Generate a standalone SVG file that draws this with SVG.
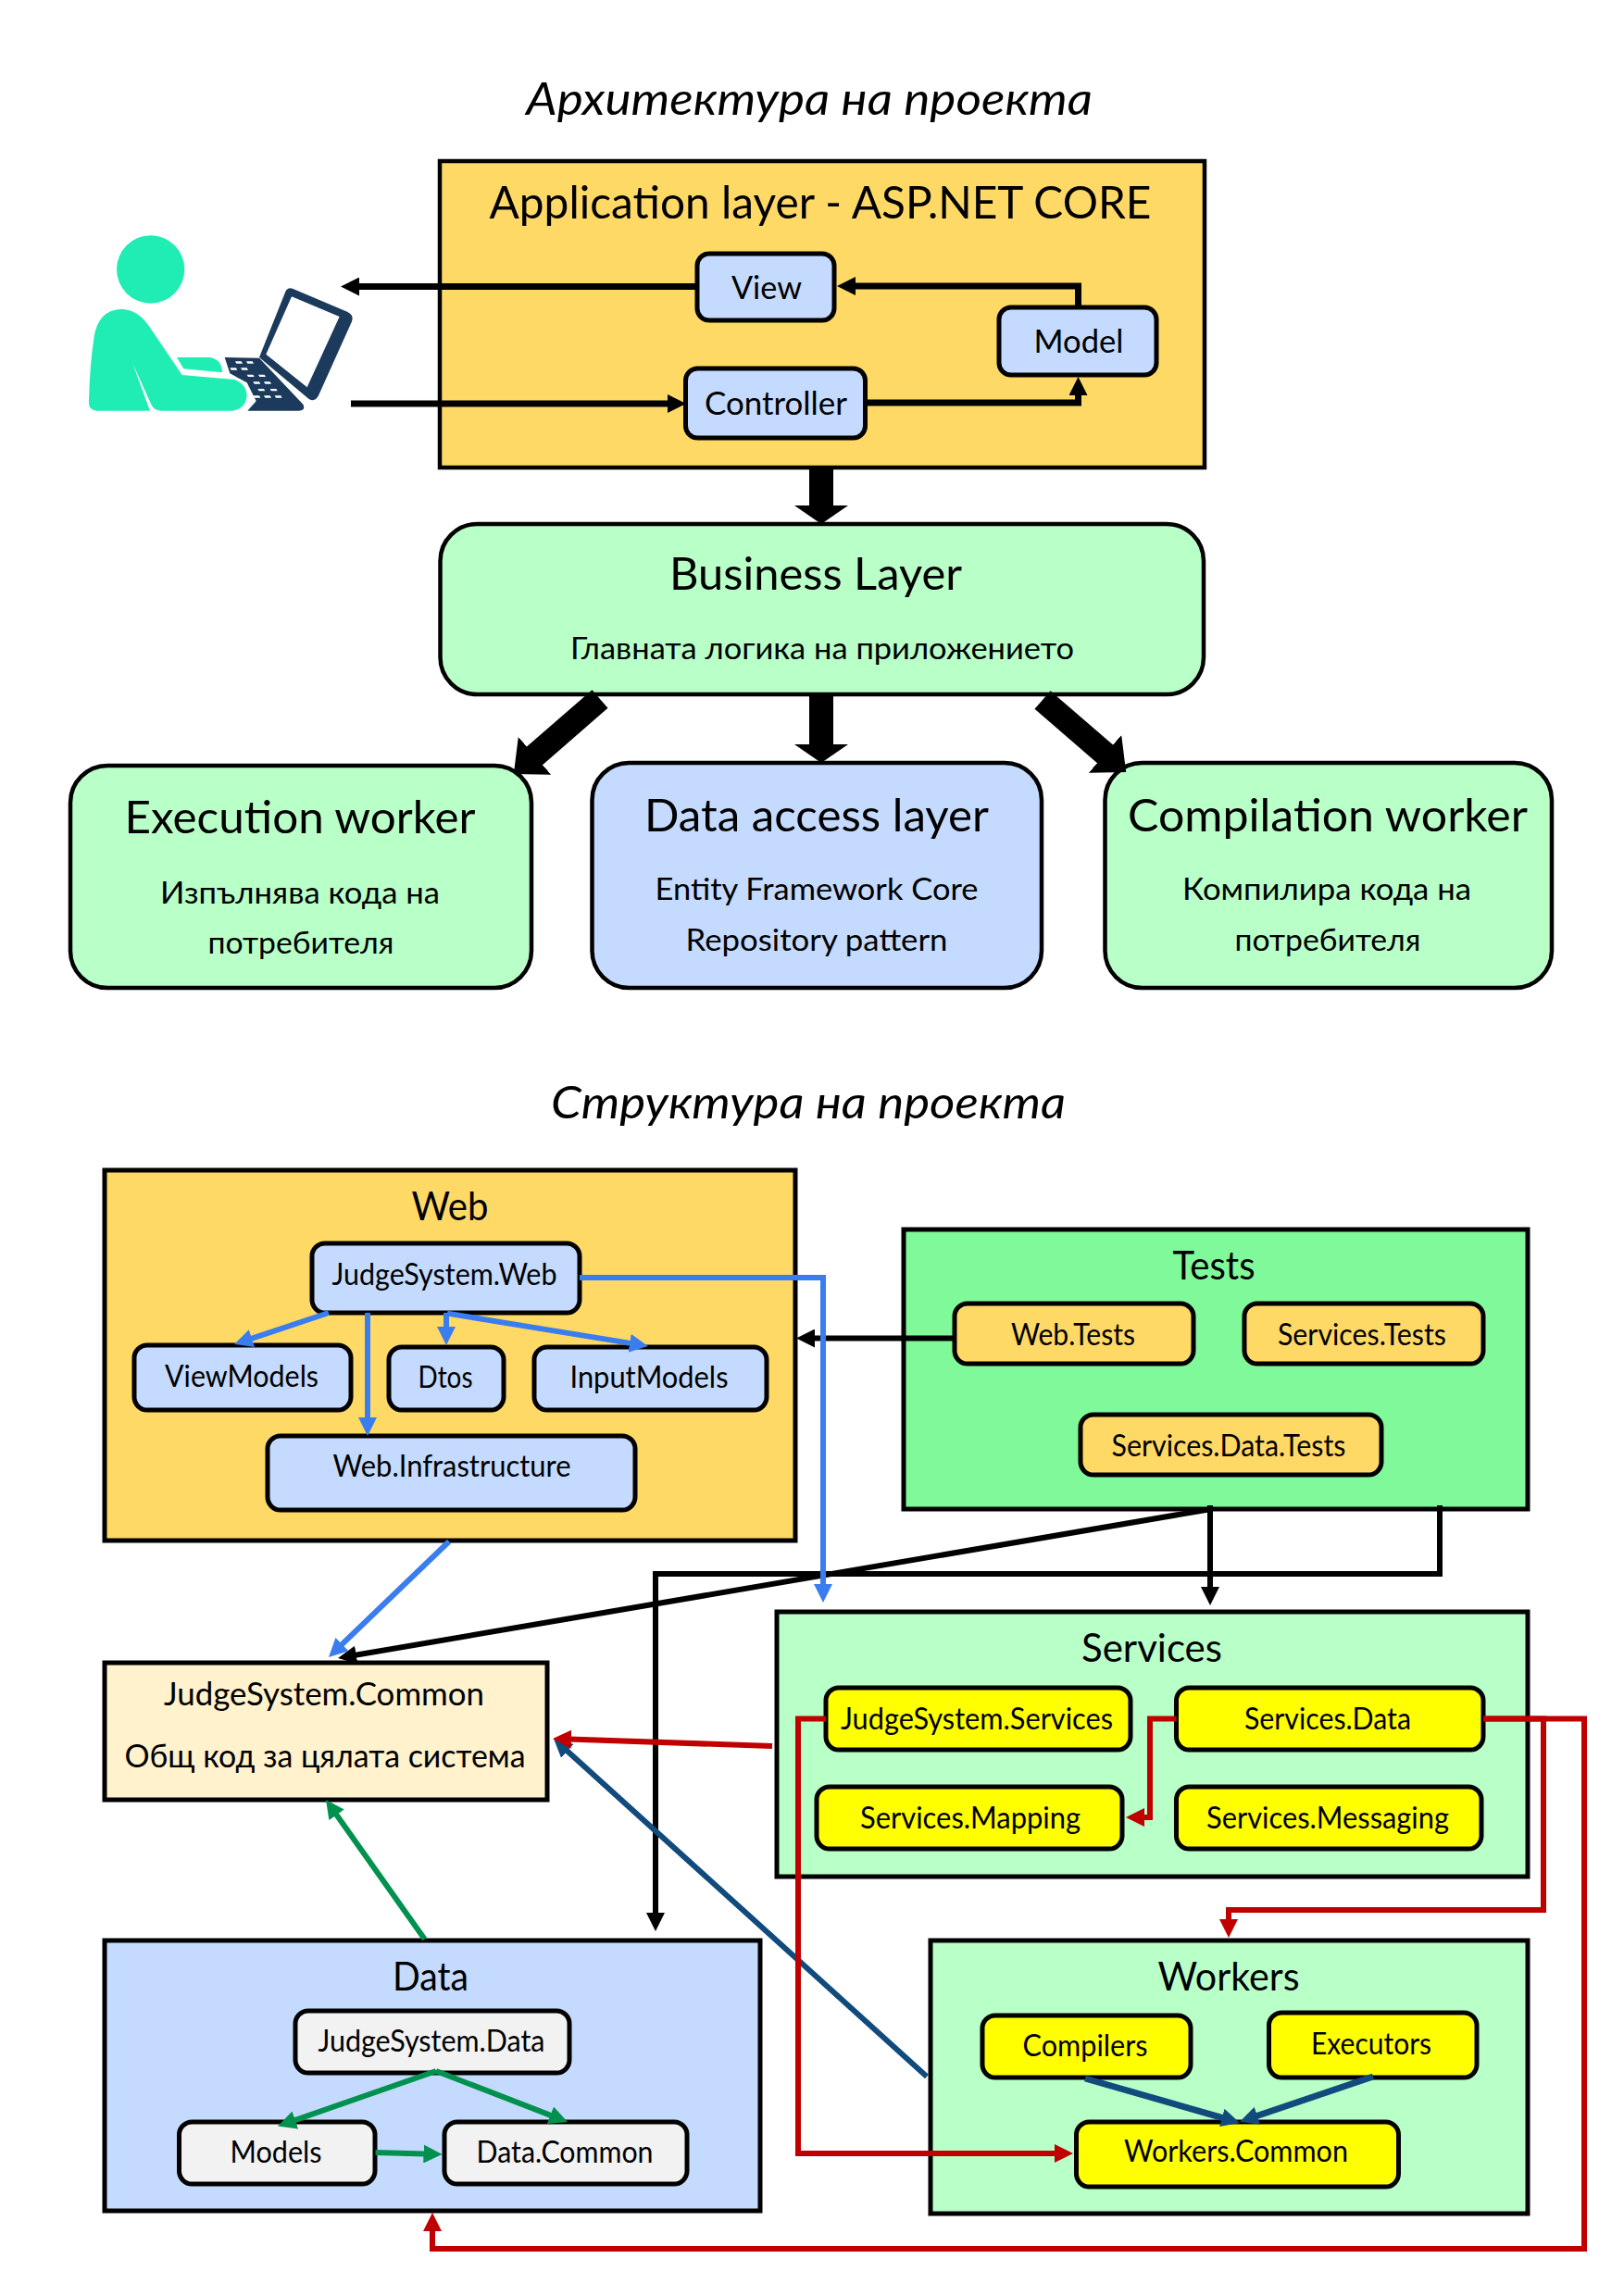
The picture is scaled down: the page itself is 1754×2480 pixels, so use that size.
<svg xmlns="http://www.w3.org/2000/svg" width="1754" height="2480" viewBox="0 0 1754 2480">
<style>
text{font-family:"Lato","Open Sans","Noto Sans",sans-serif;fill:#000;text-anchor:middle}
.t{font-size:49px}.h{font-size:43px}.n1{font-size:34px}.s{font-size:33px}.cm{font-size:35px}.m{font-size:32px}.i{font-size:49px;font-style:italic}
.box{stroke:#000;stroke-width:5}.big{stroke:#000;stroke-width:4.500}
.or{fill:#FFD966}.bl{fill:#C4DAFE}.gr{fill:#B8FFC8}.ye{fill:#FFFF00}.gy{fill:#F2F2F2}.te{fill:#80F99A}.cr{fill:#FFF2CC}
.c{fill:none;stroke-width:6}
.k{stroke:#000;marker-end:url(#ak)}.kk{stroke:#000;stroke-width:7;marker-end:url(#ak)}
.b{stroke:#3A7DEE;marker-end:url(#ab)}.r{stroke:#C00000;marker-end:url(#ar)}.n{stroke:#114A7C;marker-end:url(#an)}.g{stroke:#00914E;marker-end:url(#ag)}
.T{stroke:#000;stroke-width:26;fill:none}
</style>
<defs>
<marker id="ak" markerUnits="userSpaceOnUse" markerWidth="20" markerHeight="20" refX="10" refY="10" orient="auto"><path d="M0,0L20,10L0,20z" fill="#000"/></marker>
<marker id="ab" markerUnits="userSpaceOnUse" markerWidth="20" markerHeight="20" refX="10" refY="10" orient="auto"><path d="M0,0L20,10L0,20z" fill="#3A7DEE"/></marker>
<marker id="ar" markerUnits="userSpaceOnUse" markerWidth="20" markerHeight="20" refX="10" refY="10" orient="auto"><path d="M0,0L20,10L0,20z" fill="#C00000"/></marker>
<marker id="an" markerUnits="userSpaceOnUse" markerWidth="20" markerHeight="20" refX="10" refY="10" orient="auto"><path d="M0,0L20,10L0,20z" fill="#114A7C"/></marker>
<marker id="ag" markerUnits="userSpaceOnUse" markerWidth="20" markerHeight="20" refX="10" refY="10" orient="auto"><path d="M0,0L20,10L0,20z" fill="#00914E"/></marker>
<marker id="at" markerUnits="userSpaceOnUse" markerWidth="22" markerHeight="58" refX="2" refY="29" orient="auto"><path d="M0,0L20,29L0,58z" fill="#000"/></marker>
<marker id="ad" markerUnits="userSpaceOnUse" markerWidth="32" markerHeight="54" refX="2" refY="27" orient="auto"><path d="M0,0L30,27L0,54z" fill="#000"/></marker>
</defs>
<rect width="1754" height="2480" fill="#fff"/>

<text class="i" x="874" y="124" textLength="612" lengthAdjust="spacingAndGlyphs">Архитектура на проекта</text>
<text class="i" x="873" y="1208" textLength="556" lengthAdjust="spacingAndGlyphs">Структура на проекта</text>

<g id="user" transform="translate(80 240) scale(.33333)">
<path fill="#1B3A5C" d="M488,438L600,440L742,590Q752,611 725,611L562,611L590,580L560,520L505,490z"/>
<g fill="#fff"><path d="M522,451h20l4,7h-20zM558,451h20l4,7h-20zM505,472h20l4,7h-20zM540,472h20l4,7h-20zM560,494h20l4,7h-20zM597,494h20l4,7h-20zM580,517h20l4,7h-20zM615,517h20l4,7h-20zM595,540h20l4,7h-20zM635,540h20l4,7h-20zM580,562h20l4,7h-20zM615,562h20l4,7h-20zM650,562h20l4,7h-20z"/></g>
<path fill="#1B3A5C" fill-rule="evenodd" d="M685,225Q692,210 708,215L885,290Q908,300 900,322L792,562Q780,585 760,572L600,438zM705,241L622,428L755,535L860,306z"/>
<circle cx="248" cy="153" r="110" fill="#1FEDB3"/>
<path fill="#1FEDB3" d="M48,585Q50,470 65,370Q80,285 150,282Q205,280 245,340L350,495L520,510Q560,525 560,565Q555,605 515,611L285,611Q258,610 250,590L190,458L246,611L75,611Q47,610 48,585z"/>
<path fill="#1FEDB3" d="M333,438L440,438Q480,445 480,487L355,475z"/>
</g>

<g id="application-layer"><rect class="big or" x="475" y="174" width="826" height="331"/><text class="t" x="886" y="236" textLength="715" lengthAdjust="spacingAndGlyphs">Application layer - ASP.NET CORE</text></g>
<g id="view"><rect class="box bl" x="753" y="274" width="148" height="72" rx="13"/><text class="n1" x="828" y="323" textLength="76" lengthAdjust="spacingAndGlyphs">View</text></g>
<g id="model"><rect class="box bl" x="1079" y="332" width="170" height="73" rx="13"/><text class="n1" x="1165" y="381" textLength="97" lengthAdjust="spacingAndGlyphs">Model</text></g>
<g id="controller"><rect class="box bl" x="740.500" y="398" width="194" height="75" rx="13"/><text class="n1" x="838" y="448" textLength="154" lengthAdjust="spacingAndGlyphs">Controller</text></g>

<g id="business-layer"><rect class="big gr" x="475.500" y="566" width="824.500" height="184" rx="40"/><text class="t" x="881" y="637" textLength="316" lengthAdjust="spacingAndGlyphs">Business Layer</text><text class="s" x="888" y="712" textLength="544" lengthAdjust="spacingAndGlyphs">Главната логика на приложението</text></g>
<g id="execution-worker"><rect class="big gr" x="76" y="827" width="498" height="240" rx="40"/><text class="t" x="324" y="900" textLength="379" lengthAdjust="spacingAndGlyphs">Execution worker</text><text class="s" x="324" y="976" textLength="302" lengthAdjust="spacingAndGlyphs">Изпълнява кода на</text><text class="s" x="325" y="1030" textLength="201" lengthAdjust="spacingAndGlyphs">потребителя</text></g>
<g id="data-access-layer"><rect class="big bl" x="639.500" y="824" width="485.500" height="243" rx="40"/><text class="t" x="882" y="898" textLength="372" lengthAdjust="spacingAndGlyphs">Data access layer</text><text class="s" x="882" y="972" textLength="349" lengthAdjust="spacingAndGlyphs">Entity Framework Core</text><text class="s" x="882" y="1027" textLength="283" lengthAdjust="spacingAndGlyphs">Repository pattern</text></g>
<g id="compilation-worker"><rect class="big gr" x="1193.500" y="824" width="482.500" height="243" rx="40"/><text class="t" x="1434" y="898" textLength="432" lengthAdjust="spacingAndGlyphs">Compilation worker</text><text class="s" x="1433" y="972" textLength="312" lengthAdjust="spacingAndGlyphs">Компилира кода на</text><text class="s" x="1434" y="1027" textLength="201" lengthAdjust="spacingAndGlyphs">потребителя</text></g>

<g id="web"><rect class="box or" x="113" y="1264" width="746" height="400"/><text class="h" x="486" y="1318" textLength="83" lengthAdjust="spacingAndGlyphs">Web</text></g>
<g id="judgesystem-web"><rect class="box bl" x="337" y="1343" width="289" height="75" rx="14"/><text class="m" x="480" y="1388" textLength="243" lengthAdjust="spacingAndGlyphs">JudgeSystem.Web</text></g>
<g id="viewmodels"><rect class="box bl" x="145" y="1453" width="234" height="70" rx="14"/><text class="m" x="261" y="1498" textLength="166" lengthAdjust="spacingAndGlyphs">ViewModels</text></g>
<g id="dtos"><rect class="box bl" x="420" y="1455" width="124" height="68" rx="14"/><text class="m" x="481" y="1499" textLength="59" lengthAdjust="spacingAndGlyphs">Dtos</text></g>
<g id="inputmodels"><rect class="box bl" x="577" y="1455" width="251" height="68" rx="14"/><text class="m" x="701" y="1499" textLength="171" lengthAdjust="spacingAndGlyphs">InputModels</text></g>
<g id="web-infrastructure"><rect class="box bl" x="289" y="1551" width="397" height="80" rx="14"/><text class="m" x="488" y="1595" textLength="257" lengthAdjust="spacingAndGlyphs">Web.Infrastructure</text></g>

<g id="tests"><rect class="box te" x="976" y="1328" width="674" height="302"/><text class="h" x="1311" y="1382" textLength="89" lengthAdjust="spacingAndGlyphs">Tests</text></g>
<g id="web-tests"><rect class="box or" x="1031" y="1408" width="258" height="65" rx="14"/><text class="m" x="1159" y="1453" textLength="134" lengthAdjust="spacingAndGlyphs">Web.Tests</text></g>
<g id="services-tests"><rect class="box or" x="1344" y="1408" width="258" height="65" rx="14"/><text class="m" x="1471" y="1453" textLength="182" lengthAdjust="spacingAndGlyphs">Services.Tests</text></g>
<g id="services-data-tests"><rect class="box or" x="1167" y="1528" width="325" height="65" rx="14"/><text class="m" x="1327" y="1573" textLength="253" lengthAdjust="spacingAndGlyphs">Services.Data.Tests</text></g>

<g id="services"><rect class="box gr" x="839" y="1741" width="811" height="286"/><text class="h" x="1244" y="1795" textLength="152" lengthAdjust="spacingAndGlyphs">Services</text></g>
<g id="judgesystem-services"><rect class="box ye" x="892" y="1823" width="329" height="67" rx="14"/><text class="m" x="1055" y="1868" textLength="294" lengthAdjust="spacingAndGlyphs">JudgeSystem.Services</text></g>
<g id="services-data"><rect class="box ye" x="1270.500" y="1823" width="331.500" height="67" rx="14"/><text class="m" x="1434" y="1868" textLength="180" lengthAdjust="spacingAndGlyphs">Services.Data</text></g>
<g id="services-mapping"><rect class="box ye" x="882" y="1930" width="330" height="67" rx="14"/><text class="m" x="1048" y="1975" textLength="238" lengthAdjust="spacingAndGlyphs">Services.Mapping</text></g>
<g id="services-messaging"><rect class="box ye" x="1270.500" y="1930" width="329.500" height="67" rx="14"/><text class="m" x="1434" y="1975" textLength="262" lengthAdjust="spacingAndGlyphs">Services.Messaging</text></g>

<g id="common"><rect class="box cr" x="113" y="1796" width="478" height="148"/><text class="cm" x="350" y="1842" textLength="346" lengthAdjust="spacingAndGlyphs">JudgeSystem.Common</text><text class="cm" x="351" y="1909" textLength="433" lengthAdjust="spacingAndGlyphs">Общ код за цялата система</text></g>

<g id="data"><rect class="box bl" x="113" y="2096" width="708" height="292"/><text class="h" x="465" y="2150" textLength="82" lengthAdjust="spacingAndGlyphs">Data</text></g>
<g id="judgesystem-data"><rect class="box gy" x="319" y="2172" width="296" height="67" rx="14"/><text class="m" x="466" y="2216" textLength="245" lengthAdjust="spacingAndGlyphs">JudgeSystem.Data</text></g>
<g id="models"><rect class="box gy" x="193.500" y="2292" width="211.500" height="67" rx="14"/><text class="m" x="298" y="2336" textLength="99" lengthAdjust="spacingAndGlyphs">Models</text></g>
<g id="data-common"><rect class="box gy" x="480" y="2292" width="262" height="67" rx="14"/><text class="m" x="610" y="2336" textLength="191" lengthAdjust="spacingAndGlyphs">Data.Common</text></g>

<g id="workers"><rect class="box gr" x="1005" y="2096" width="645" height="295"/><text class="h" x="1327" y="2150" textLength="153" lengthAdjust="spacingAndGlyphs">Workers</text></g>
<g id="compilers"><rect class="box ye" x="1061" y="2177" width="225" height="67" rx="14"/><text class="m" x="1172" y="2221" textLength="135" lengthAdjust="spacingAndGlyphs">Compilers</text></g>
<g id="executors"><rect class="box ye" x="1370.500" y="2174" width="224.500" height="70" rx="14"/><text class="m" x="1481" y="2219" textLength="130" lengthAdjust="spacingAndGlyphs">Executors</text></g>
<g id="workers-common"><rect class="box ye" x="1162.500" y="2292" width="348" height="70" rx="14"/><text class="m" x="1335" y="2335" textLength="242" lengthAdjust="spacingAndGlyphs">Workers.Common</text></g>

<g id="connectors">
<path class="c kk" d="M753,309.500H378"/>
<path class="c kk" d="M1164.500,332V309H914"/>
<path class="c kk" d="M379,436H731"/>
<path class="c kk" d="M935,435H1164.500V417"/>
<path class="T" marker-end="url(#at)" d="M887,505V548"/>
<path class="T" marker-end="url(#at)" d="M887,750V806"/>
<path class="T" marker-end="url(#ad)" d="M648,755L576,817.600"/>
<path class="T" marker-end="url(#ad)" d="M1126,756L1195,815.700"/>
<path class="c k" d="M1555,1626V1700H708V2076"/>
<path class="c k" d="M1308,1630L374.900,1789.300"/>
<path class="c k" d="M1307,1626V1724"/>
<path class="c k" d="M1031,1445.500H870"/>
<path class="c b" d="M626,1380H889V1721"/>
<path class="c b" d="M355,1418L262.500,1448.800"/>
<path class="c b" d="M397,1418V1541"/>
<path class="c b" d="M482,1418V1443"/>
<path class="c b" d="M483,1418.600L690,1452.400"/>
<path class="c b" d="M485,1665L362.200,1783"/>
<path class="c n" d="M1001,2243L605.400,1884.700"/>
<path class="c n" style="stroke-width:7" d="M1172,2245L1329.400,2290.200"/>
<path class="c n" style="stroke-width:7" d="M1483,2243L1348.500,2288.500"/>
<path class="c r" d="M892,1856.500H862V2326H1149"/>
<path class="c r" d="M1270.500,1856.500H1242V1963H1226"/>
<path class="c r" d="M1602,1856.500H1711V2429H467V2400"/>
<path class="c r" d="M1602,1856.500H1667V2063H1327V2083"/>
<path class="c r" d="M834,1886L607,1878.300"/>
<path class="c g" d="M458.600,2094.600L357.800,1952.200"/>
<path class="c g" style="stroke-width:6" d="M471,2237L309.400,2293.300"/>
<path class="c g" style="stroke-width:6" d="M471,2237L603.700,2288.400"/>
<path class="c g" style="stroke-width:6" d="M405.500,2325L467.500,2326.700"/>
</g>
</svg>
